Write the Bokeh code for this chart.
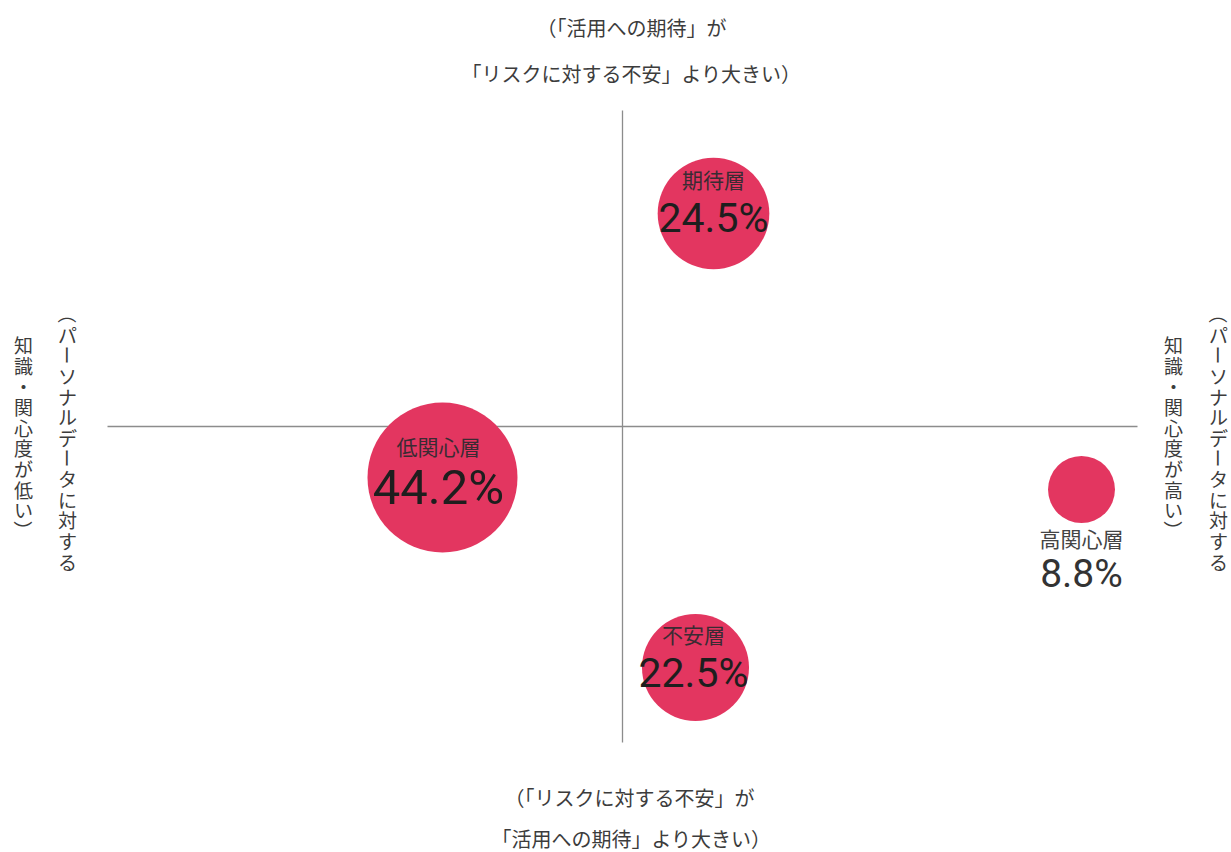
import math
from bokeh.plotting import figure
from bokeh.models import ColumnDataSource, Range1d
from bokeh.embed import file_html
from bokeh.resources import INLINE
from bokeh.core.properties import value

# ---------------- data ----------------
segments = ["期待層", "低関心層", "高関心層", "不安層"]
shares = [24.5, 44.2, 8.8, 22.5]                 # %
knowledge = [91, -180, 459, 73]                  # x: knowledge / interest (right = high)
expectation = [213, -51, -63, -241]              # y: expectation vs. anxiety (up = expectation)
share_labels = ["24.5%", "44.2%", "8.8%", "22.5%"]

top_title = ["（「活用への期待」が", "「リスクに対する不安」より大きい）"]
bottom_title = ["（「リスクに対する不安」が", "「活用への期待」より大きい）"]
left_title = ["（パーソナルデータに対する", "知識・関心度が低い）"]
right_title = ["（パーソナルデータに対する", "知識・関心度が高い）"]

# ---------------- layout / style ----------------
W, H = 1231, 852
JP = value("Noto Sans CJK JP")
NUM = value("Roboto")
BUBBLE = "#E33660"
AXIS_COL = "#8c8c8c"
TXT = "#3c3c3c"

radius_scale = 11.28
label_dy = [-35, -32, 48, -34]
pct_dy = [4, 10, 84, 5]
label_dx = [0, -4, 0, -2]
pct_sizes = ["41px", "49px", "39px", "41px"]
pct_colors = ["#1e1e1e", "#1e1e1e", "#333333", "#1e1e1e"]
label_colors = ["#3a2b33", "#3a2b33", "#444444", "#3a2b33"]

p = figure(width=W, height=H, output_backend="svg", toolbar_location=None,
           x_range=Range1d(-622, 609), y_range=Range1d(-426, 426),
           min_border=0, outline_line_color=None)
p.axis.visible = False
p.grid.visible = False
p.background_fill_color = "white"
p.border_fill_color = "white"

# quadrant axes
p.segment(x0=[-515, 0], y0=[0, 316], x1=[515, 0], y1=[0, -316],
          line_color=AXIS_COL, line_width=1.3)

src = ColumnDataSource(dict(
    x=knowledge, y=expectation, seg=segments, pct=share_labels,
    r=[radius_scale * math.sqrt(s) for s in shares],
    lx=[x + dx for x, dx in zip(knowledge, label_dx)],
    ly=[y - d for y, d in zip(expectation, label_dy)],
    px=[x + dx for x, dx in zip(knowledge, label_dx)],
    py=[y - d for y, d in zip(expectation, pct_dy)],
    fs=pct_sizes, pc=pct_colors, lc=label_colors,
))

p.circle(x="x", y="y", radius="r", source=src, fill_color=BUBBLE, line_color=None)
p.text(x="lx", y="ly", text="seg", source=src, text_font=JP, text_font_size="21px",
       text_color="lc", text_align="center", text_baseline="middle")
p.text(x="px", y="py", text="pct", source=src, text_font=NUM, text_font_size="fs",
       text_color="pc", text_align="center", text_baseline="middle")

# horizontal titles
p.text(x=[9, 9], y=[399, 353], text=top_title, text_font=JP, text_font_size="20px",
       text_color=TXT, text_align="center", text_baseline="middle")
p.text(x=[7, 9], y=[-371, -412], text=bottom_title, text_font=JP, text_font_size="20px",
       text_color=TXT, text_align="center", text_baseline="middle")

# vertical (tategaki) titles
rot_chars = {"（", "）", "ー"}
def vertical(col_x, s, center_y=-11, pitch=20.6):
    n = len(s)
    xs, ys, cs, angs = [], [], [], []
    for i, ch in enumerate(s):
        xs.append(col_x)
        ys.append(center_y - (i - (n - 1) / 2) * pitch)
        cs.append(ch)
        angs.append(-math.pi / 2 if ch in rot_chars else 0.0)
    p.text(x=xs, y=ys, text=cs, angle=angs, text_font=JP, text_font_size="19px",
           text_color=TXT, text_align="center", text_baseline="middle")

vertical(-555, left_title[0])
vertical(-599, left_title[1])
vertical(596, right_title[0])
vertical(551, right_title[1])

open("out.html", "w").write(file_html(p, INLINE))
